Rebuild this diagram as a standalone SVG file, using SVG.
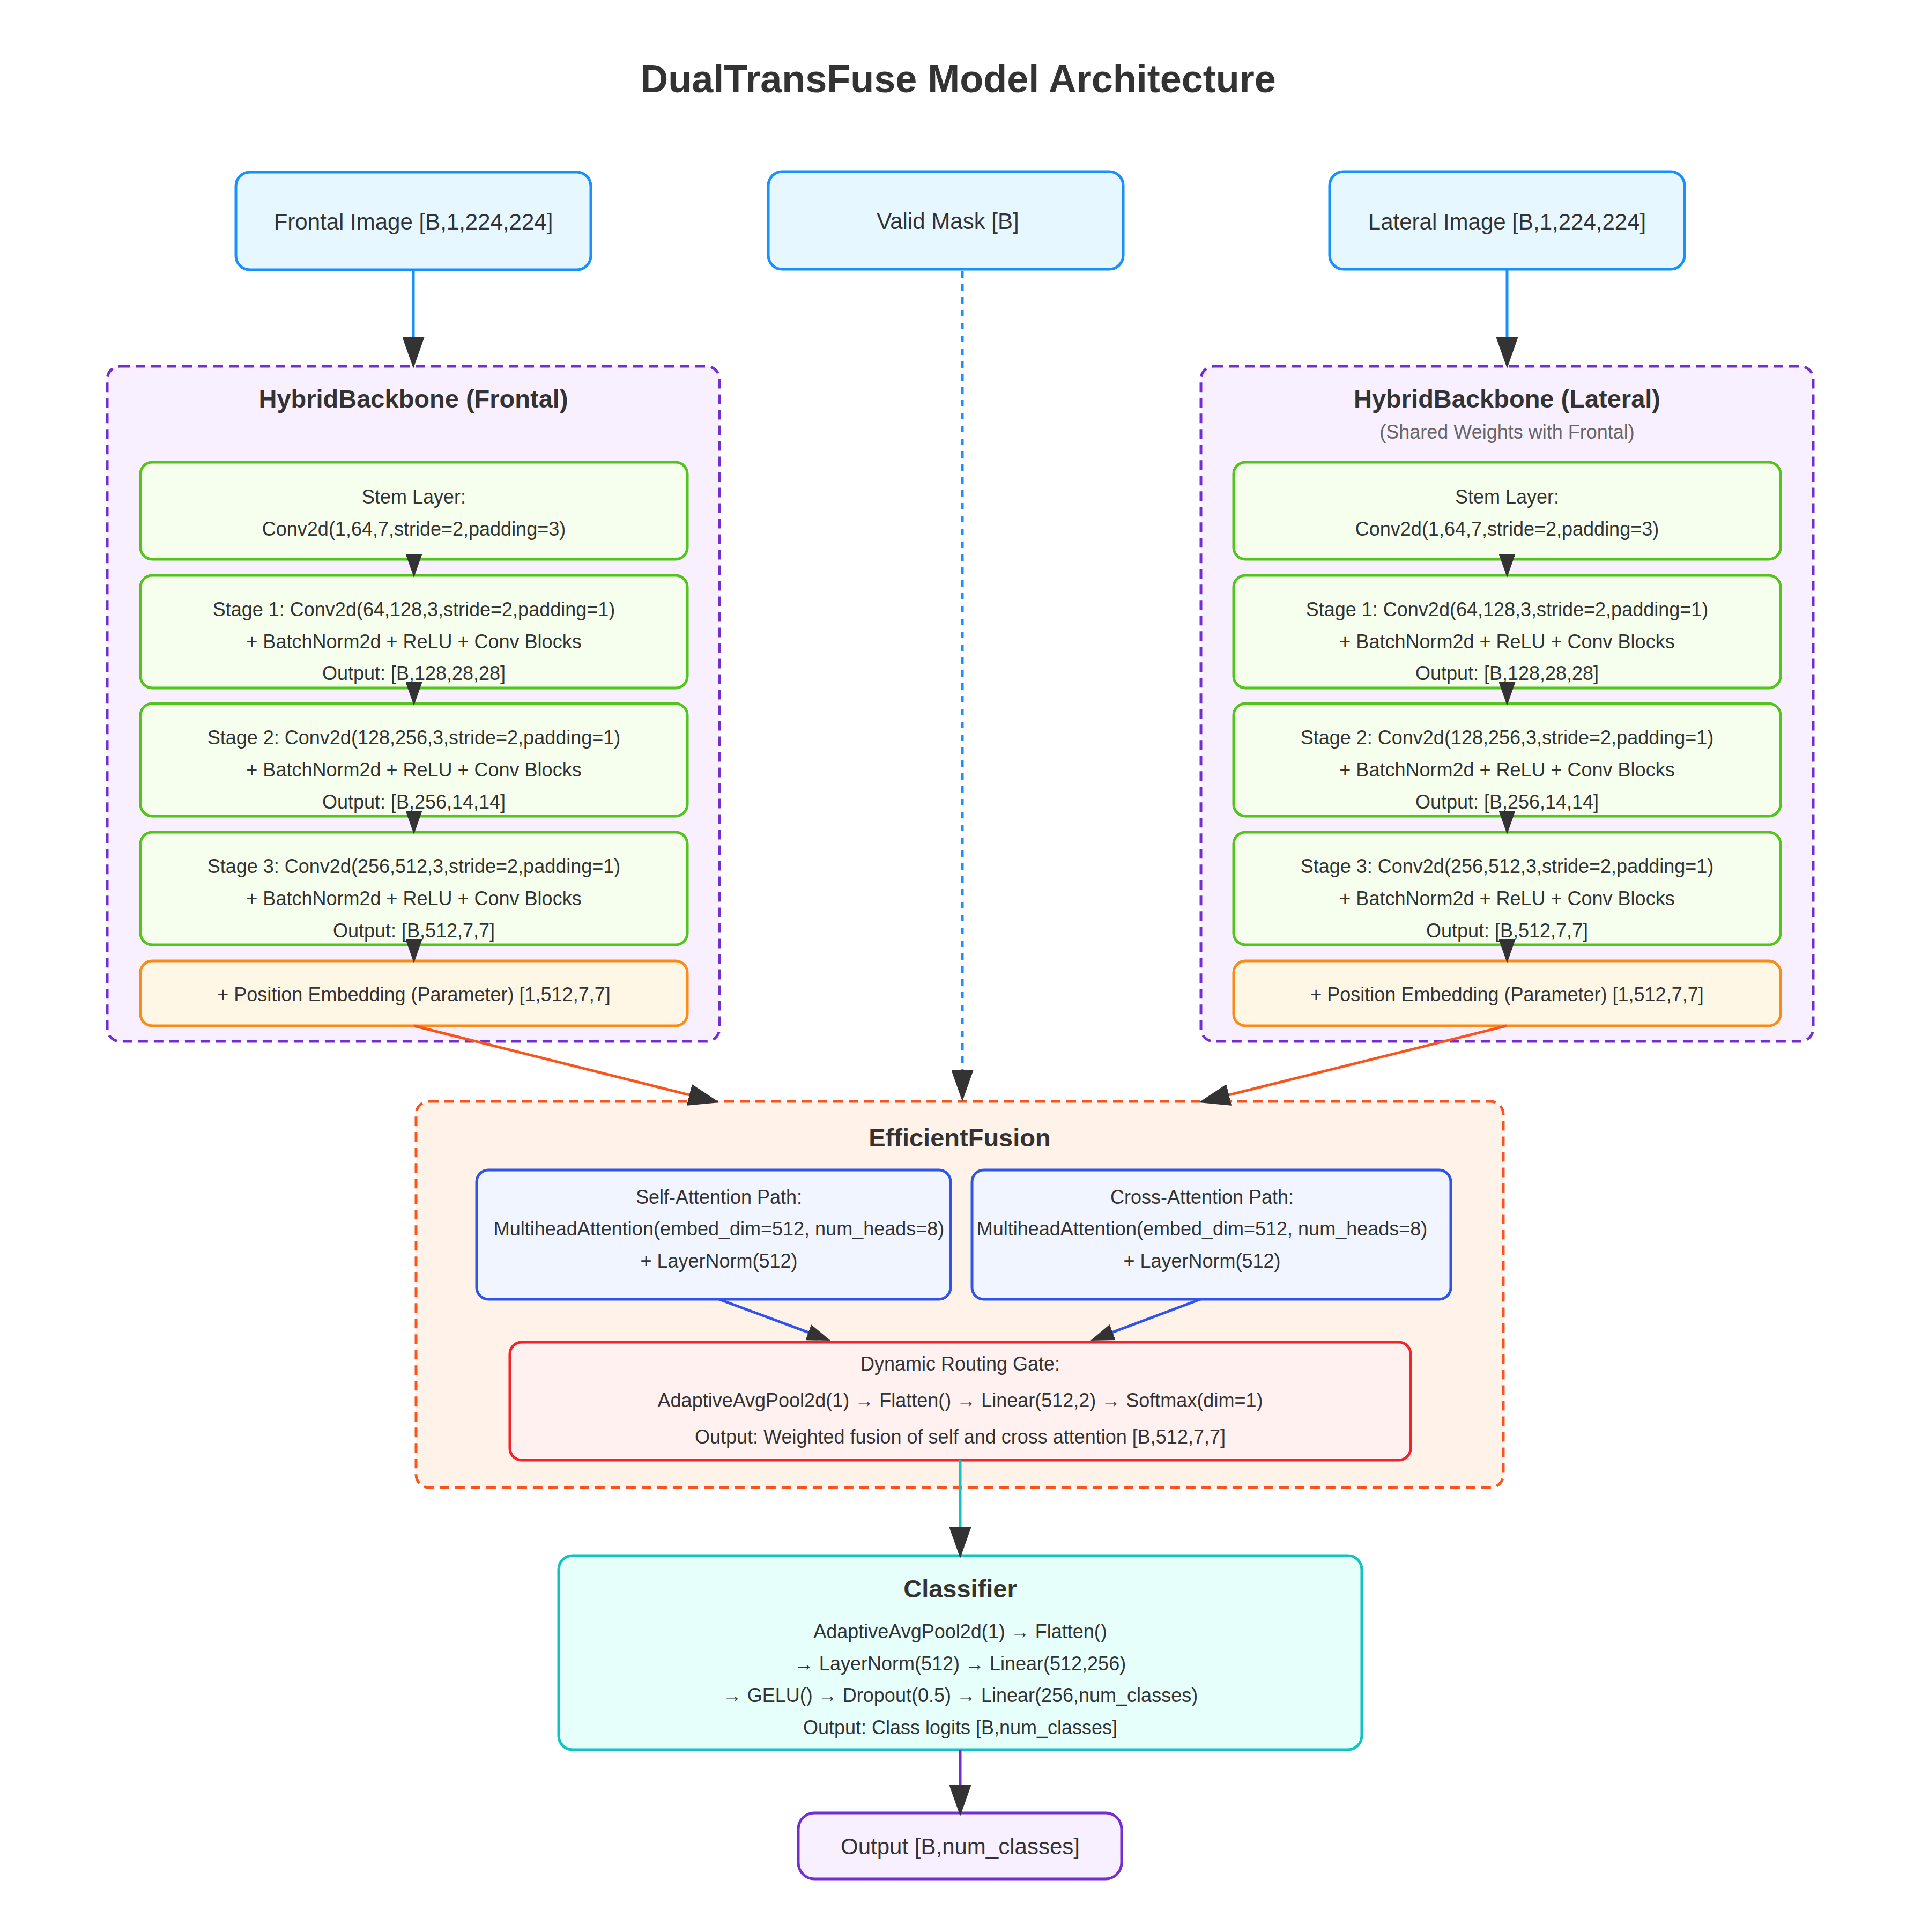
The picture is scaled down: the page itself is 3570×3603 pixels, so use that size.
<svg xmlns="http://www.w3.org/2000/svg" width="3570" height="3603" viewBox="0 0 3570 3603">
<defs>
<style>
text{font-family:"Liberation Sans",Arial,Helvetica,sans-serif;fill:#333;text-anchor:middle}
.t{font-size:72px;font-weight:bold}
.h{font-size:47px;font-weight:bold}
.n{font-size:42px}
.s{font-size:36px}
.sub{font-size:36px;fill:#666}
.inp{fill:#e6f7ff;stroke:#1890ff;stroke-width:5}
.bb{fill:#f9f0ff;stroke:#722ed1;stroke-width:5;stroke-dasharray:18 11}
.st{fill:#f6ffed;stroke:#52c41a;stroke-width:5}
.pe{fill:#fff7e6;stroke:#fa8c16;stroke-width:5}
.fu{fill:#fff2e8;stroke:#fa541c;stroke-width:5;stroke-dasharray:18 11}
.at{fill:#f0f5ff;stroke:#2f54eb;stroke-width:5}
.gt{fill:#fff1f0;stroke:#f5222d;stroke-width:5}
.cl{fill:#e6fffb;stroke:#13c2c2;stroke-width:5}
.ou{fill:#f9f0ff;stroke:#722ed1;stroke-width:5}
.e{fill:none;stroke-width:5}
</style>
<marker id="big" viewBox="0 0 58 41" refX="18" refY="20.5" markerWidth="58" markerHeight="41" markerUnits="userSpaceOnUse" orient="auto"><path d="M0,0 L58,20.5 L0,41 Z" fill="#333"/></marker>
<marker id="sm" viewBox="0 0 44 31" refX="14" refY="15.5" markerWidth="44" markerHeight="31" markerUnits="userSpaceOnUse" orient="auto"><path d="M0,0 L44,15.5 L0,31 Z" fill="#333"/></marker>
</defs>
<rect width="3570" height="3603" fill="#fff"/>
<text class="t" x="1787" y="172">DualTransFuse Model Architecture</text>

<g id="frontal_input">
<rect class="inp" x="440" y="321" width="662" height="182" rx="26"/>
<text class="n" x="771" y="428">Frontal Image [B,1,224,224]</text>
</g>
<g id="valid_mask">
<rect class="inp" x="1433" y="320" width="662" height="182" rx="26"/>
<text class="n" x="1768" y="427">Valid Mask [B]</text>
</g>
<g id="lateral_input">
<rect class="inp" x="2480" y="320" width="662" height="182" rx="26"/>
<text class="n" x="2811" y="428">Lateral Image [B,1,224,224]</text>
</g>

<g id="backbone_frontal">
<rect class="bb" x="200" y="683" width="1142" height="1259" rx="24"/>
<text class="h" x="771" y="760">HybridBackbone (Frontal)</text>
<g id="f_stem"><rect class="st" x="262" y="862" width="1020" height="181" rx="22"/>
<text class="s" x="772" y="939">Stem Layer:</text><text class="s" x="772" y="999">Conv2d(1,64,7,stride=2,padding=3)</text></g>
<g id="f_stage1"><rect class="st" x="262" y="1073" width="1020" height="210" rx="22"/>
<text class="s" x="772" y="1149">Stage 1: Conv2d(64,128,3,stride=2,padding=1)</text><text class="s" x="772" y="1209">+ BatchNorm2d + ReLU + Conv Blocks</text><text class="s" x="772" y="1268">Output: [B,128,28,28]</text></g>
<g id="f_stage2"><rect class="st" x="262" y="1312" width="1020" height="210" rx="22"/>
<text class="s" x="772" y="1388">Stage 2: Conv2d(128,256,3,stride=2,padding=1)</text><text class="s" x="772" y="1448">+ BatchNorm2d + ReLU + Conv Blocks</text><text class="s" x="772" y="1508">Output: [B,256,14,14]</text></g>
<g id="f_stage3"><rect class="st" x="262" y="1552" width="1020" height="210" rx="22"/>
<text class="s" x="772" y="1628">Stage 3: Conv2d(256,512,3,stride=2,padding=1)</text><text class="s" x="772" y="1688">+ BatchNorm2d + ReLU + Conv Blocks</text><text class="s" x="772" y="1748">Output: [B,512,7,7]</text></g>
<g id="f_posemb"><rect class="pe" x="262" y="1792" width="1020" height="121" rx="22"/>
<text class="s" x="772" y="1867">+ Position Embedding (Parameter) [1,512,7,7]</text></g>
</g>

<g id="backbone_lateral">
<rect class="bb" x="2240" y="683" width="1142" height="1259" rx="24"/>
<text class="h" x="2811" y="760">HybridBackbone (Lateral)</text>
<text class="sub" x="2811" y="818">(Shared Weights with Frontal)</text>
<g id="l_stem"><rect class="st" x="2301" y="862" width="1020" height="181" rx="22"/>
<text class="s" x="2811" y="939">Stem Layer:</text><text class="s" x="2811" y="999">Conv2d(1,64,7,stride=2,padding=3)</text></g>
<g id="l_stage1"><rect class="st" x="2301" y="1073" width="1020" height="210" rx="22"/>
<text class="s" x="2811" y="1149">Stage 1: Conv2d(64,128,3,stride=2,padding=1)</text><text class="s" x="2811" y="1209">+ BatchNorm2d + ReLU + Conv Blocks</text><text class="s" x="2811" y="1268">Output: [B,128,28,28]</text></g>
<g id="l_stage2"><rect class="st" x="2301" y="1312" width="1020" height="210" rx="22"/>
<text class="s" x="2811" y="1388">Stage 2: Conv2d(128,256,3,stride=2,padding=1)</text><text class="s" x="2811" y="1448">+ BatchNorm2d + ReLU + Conv Blocks</text><text class="s" x="2811" y="1508">Output: [B,256,14,14]</text></g>
<g id="l_stage3"><rect class="st" x="2301" y="1552" width="1020" height="210" rx="22"/>
<text class="s" x="2811" y="1628">Stage 3: Conv2d(256,512,3,stride=2,padding=1)</text><text class="s" x="2811" y="1688">+ BatchNorm2d + ReLU + Conv Blocks</text><text class="s" x="2811" y="1748">Output: [B,512,7,7]</text></g>
<g id="l_posemb"><rect class="pe" x="2301" y="1792" width="1020" height="121" rx="22"/>
<text class="s" x="2811" y="1867">+ Position Embedding (Parameter) [1,512,7,7]</text></g>
</g>

<g id="efficient_fusion">
<rect class="fu" x="776" y="2054" width="2028" height="720" rx="24"/>
<text class="h" x="1790" y="2138">EfficientFusion</text>
<g id="self_attn"><rect class="at" x="889" y="2182" width="884" height="241" rx="22"/>
<text class="s" x="1341" y="2245">Self-Attention Path:</text><text class="s" x="1341" y="2304">MultiheadAttention(embed_dim=512, num_heads=8)</text><text class="s" x="1341" y="2364">+ LayerNorm(512)</text></g>
<g id="cross_attn"><rect class="at" x="1813" y="2182" width="893" height="241" rx="22"/>
<text class="s" x="2242" y="2245">Cross-Attention Path:</text><text class="s" x="2242" y="2304">MultiheadAttention(embed_dim=512, num_heads=8)</text><text class="s" x="2242" y="2364">+ LayerNorm(512)</text></g>
<g id="routing_gate"><rect class="gt" x="951" y="2503" width="1680" height="220" rx="22"/>
<text class="s" x="1791" y="2556">Dynamic Routing Gate:</text><text class="s" x="1791" y="2624">AdaptiveAvgPool2d(1) → Flatten() → Linear(512,2) → Softmax(dim=1)</text><text class="s" x="1791" y="2692">Output: Weighted fusion of self and cross attention [B,512,7,7]</text></g>
</g>

<g id="classifier">
<rect class="cl" x="1042" y="2901" width="1498" height="362" rx="26"/>
<text class="h" x="1791" y="2979">Classifier</text>
<text class="s" x="1791" y="3055">AdaptiveAvgPool2d(1) → Flatten()</text>
<text class="s" x="1791" y="3115">→ LayerNorm(512) → Linear(512,256)</text>
<text class="s" x="1791" y="3174">→ GELU() → Dropout(0.5) → Linear(256,num_classes)</text>
<text class="s" x="1791" y="3234">Output: Class logits [B,num_classes]</text>
</g>

<g id="output">
<rect class="ou" x="1489" y="3381" width="603" height="123" rx="30"/>
<text class="n" x="1791" y="3458">Output [B,num_classes]</text>
</g>

<g id="connectors">
<path class="e" stroke="#1890ff" d="M771,503 L771,647" marker-end="url(#big)"/>
<path class="e" stroke="#1890ff" d="M2811,502 L2811,647" marker-end="url(#big)"/>
<path class="e" stroke="#1890ff" stroke-dasharray="12 12" d="M1795,506 L1795,2014" marker-end="url(#big)"/>
<path class="e" stroke="#333" stroke-width="3" d="M772,1033 L772,1047" marker-end="url(#sm)"/>
<path class="e" stroke="#333" stroke-width="3" d="M772,1272 L772,1286" marker-end="url(#sm)"/>
<path class="e" stroke="#333" stroke-width="3" d="M772,1512 L772,1526" marker-end="url(#sm)"/>
<path class="e" stroke="#333" stroke-width="3" d="M772,1752 L772,1766" marker-end="url(#sm)"/>
<path class="e" stroke="#333" stroke-width="3" d="M2811,1033 L2811,1047" marker-end="url(#sm)"/>
<path class="e" stroke="#333" stroke-width="3" d="M2811,1272 L2811,1286" marker-end="url(#sm)"/>
<path class="e" stroke="#333" stroke-width="3" d="M2811,1512 L2811,1526" marker-end="url(#sm)"/>
<path class="e" stroke="#333" stroke-width="3" d="M2811,1752 L2811,1766" marker-end="url(#sm)"/>
<path class="e" stroke="#fa541c" d="M772,1913 L1303.2,2046.3" marker-end="url(#big)"/>
<path class="e" stroke="#fa541c" d="M2810,1913 L2274.8,2046.3" marker-end="url(#big)"/>
<path class="e" stroke="#2f54eb" stroke-width="4" d="M1341,2423 L1520.9,2489.6" marker-end="url(#sm)"/>
<path class="e" stroke="#2f54eb" stroke-width="4" d="M2239,2423 L2062.1,2489.4" marker-end="url(#sm)"/>
<path class="e" stroke="#13c2c2" d="M1791,2723 L1791,2866" marker-end="url(#big)"/>
<path class="e" stroke="#722ed1" d="M1791,3263 L1791,3347" marker-end="url(#big)"/>
</g>
</svg>
